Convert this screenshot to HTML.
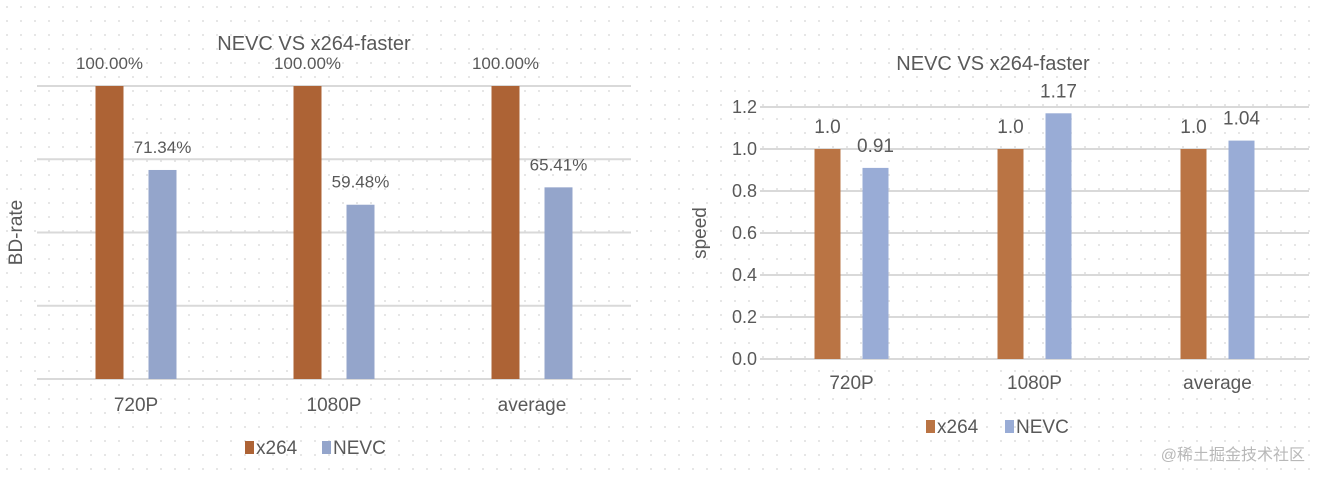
<!DOCTYPE html>
<html><head><meta charset="utf-8">
<style>
html,body{margin:0;padding:0;}
body{width:1322px;height:480px;overflow:hidden;background-color:#fff;
background-image:radial-gradient(circle,#e2e2e2 0.9px,transparent 1.2px);background-size:14px 14px;
font-family:"Liberation Sans","Noto Sans CJK SC",sans-serif;}
svg{position:absolute;left:0;top:0;}
text{fill:#595959;font-family:"Liberation Sans","Noto Sans CJK SC",sans-serif;}
</style></head>
<body>
<svg id="chart" width="1322" height="480"></svg>
<script>
const categories = ["720P","1080P","average"];
const seriesNames = ["x264","NEVC"];
const bdX264 = [100.00, 100.00, 100.00];
const bdNevc = [71.34, 59.48, 65.41];
const bdLabelsX264 = ["100.00%","100.00%","100.00%"];
const bdLabelsNevc = ["71.34%","59.48%","65.41%"];
const bdTicks = [0,25,50,75,100];
const spX264 = [1.0, 1.0, 1.0];
const spNevc = [0.91, 1.17, 1.04];
const spLabelsX264 = ["1.0","1.0","1.0"];
const spLabelsNevc = ["0.91","1.17","1.04"];
const spTicks = [0,0.2,0.4,0.6,0.8,1.0,1.2];
const spTickLabels = ["0.0","0.2","0.4","0.6","0.8","1.0","1.2"];

const NS="http://www.w3.org/2000/svg";
const svg=document.getElementById('chart');
function mk(tag,attrs,parent){const e=document.createElementNS(NS,tag);for(const k in attrs)e.setAttribute(k,attrs[k]);(parent||svg).appendChild(e);return e;}
function txt(s,x,y,size,anchor,parent){const t=mk('text',{x:x,y:y,'font-size':size,'text-anchor':anchor||'middle'},parent);t.textContent=s;return t;}

function drawChart(cfg){
  const g=mk('g',{});
  
  
  const yS=v=>cfg.y0-(v-cfg.min)/(cfg.max-cfg.min)*(cfg.y0-cfg.y1);
  const cw=(cfg.x1-cfg.x0)/categories.length;
  cfg.ticks.forEach((t,i)=>{
    const l=mk('line',{x1:cfg.x0,x2:cfg.x1,y1:yS(t),y2:yS(t),stroke:'#d9d9d9','stroke-width':2},g);
    
    
    if(cfg.tickLabels){const tl=txt(cfg.tickLabels[i],cfg.tickX,yS(t)+6,18,'end',g);
      
      }
  });
  categories.forEach((c,i)=>{
    const cx=cfg.x0+cw*(i+0.5);
    const vals=[cfg.a[i],cfg.b[i]];const labs=[cfg.la[i],cfg.lb[i]];
    [0,1].forEach(s=>{
      const bx=cx+(s===0?-cfg.gap/2-cfg.bw:cfg.gap/2);
      const r=mk('rect',{x:bx,y:yS(vals[s]),width:cfg.bw,height:yS(cfg.min)-yS(vals[s]),fill:cfg.colors[s]},g);
      
      
      const lt=txt(labs[s],bx+cfg.bw/2,yS(vals[s])-cfg.labOff,cfg.labSize,'middle',g);
      
      
    });
    const cl=txt(c,cx,cfg.catY,19,'middle',g);
    
    
  });
  const ti=txt(cfg.title,cfg.titleX,cfg.titleY,20,'middle',g);
  
  
  const yt=txt(cfg.yTitle,0,0,19,'middle',g);
  yt.setAttribute('transform','translate('+cfg.yTitleX+','+((cfg.y0+cfg.y1)/2)+') rotate(-90)');
  
  
  cfg.legend.forEach((lx,s)=>{
    const sq=mk('rect',{x:lx,y:cfg.legY-13,width:9,height:13,fill:cfg.colors[s]},g);
    
    
    const lt=txt(seriesNames[s],lx+11,cfg.legY,19,'start',g);
    
    
  });
}

drawChart({name:'bd-rate-chart',x0:37,x1:631,y0:379,y1:86,min:0,max:100,ticks:bdTicks,tickLabels:null,
  a:bdX264,b:bdNevc,la:bdLabelsX264,lb:bdLabelsNevc,bw:28,gap:25,labOff:17,labSize:17,
  colors:['#ad6335','#94a5cb'],catY:411,title:'NEVC VS x264-faster',titleX:314,titleY:50,
  yTitle:'BD-rate',yTitleX:22,legend:[245,322],legY:454});

drawChart({name:'speed-chart',x0:760,x1:1309,y0:359,y1:107,min:0,max:1.2,ticks:spTicks,tickLabels:spTickLabels,tickX:757,
  a:spX264,b:spNevc,la:spLabelsX264,lb:spLabelsNevc,bw:26,gap:22,labOff:16,labSize:19,
  colors:['#ba7444','#99acd6'],catY:389,title:'NEVC VS x264-faster',titleX:993,titleY:70,
  yTitle:'speed',yTitleX:706,legend:[926,1005],legY:433});

const wm=txt('@稀土掘金技术社区',1305,460,16,'end');
wm.setAttribute('style','fill:#b8b8b8');


</script>
</body></html>
